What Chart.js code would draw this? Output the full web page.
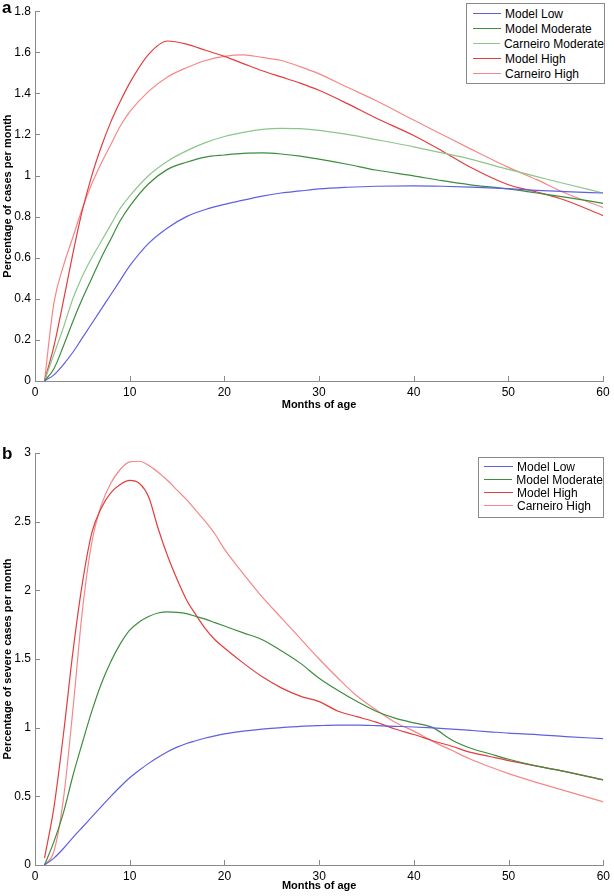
<!DOCTYPE html>
<html>
<head>
<meta charset="utf-8">
<script src="https://cdn.jsdelivr.net/npm/chart.js@4.4.1/dist/chart.umd.min.js"></script>
<style>
  body { margin: 0; background: #fff; font-family: "Liberation Sans", Arial, sans-serif; }
  .panel { position: absolute; left: 0; width: 614px; }
  .legend {
    position: absolute; background: #fff; border: 1px solid #8a8a8a;
    font-size: 12px; color: #000; padding: 2px 0;
  }
  .legend .row { display: flex; align-items: center; white-space: nowrap; }
  .legend .swatch { display: inline-block; height: 1px; margin-right: 4px; }
</style>
</head>
<body>
<div class="panel" style="top:0;height:412px"><canvas id="chartA"></canvas></div>
<div class="panel" style="top:440px;height:456px"><canvas id="chartB"></canvas></div>
<div class="legend" id="legendA" style="left:466px;top:3px;width:137px;height:75px"></div>
<div class="legend" id="legendB" style="left:478px;top:457px;width:124px;height:55px"></div>

<script>
// ---- panel a: all cases ----
const monthsA = [1, 2, 3, 4, 5, 6, 7, 8, 9, 10, 12, 14, 16, 18, 20, 22, 24, 26, 28, 30, 33, 36, 40, 43, 46, 50, 53, 56, 60];
const modelLowA = [0, 0.03, 0.08, 0.14, 0.21, 0.28, 0.35, 0.42, 0.49, 0.56, 0.67, 0.745, 0.80, 0.835, 0.86, 0.88, 0.90, 0.915, 0.925, 0.935, 0.943, 0.948, 0.95, 0.948, 0.944, 0.936, 0.928, 0.922, 0.915];
const modelModA = [0, 0.06, 0.17, 0.29, 0.40, 0.50, 0.60, 0.69, 0.78, 0.85, 0.96, 1.03, 1.065, 1.09, 1.10, 1.108, 1.11, 1.105, 1.095, 1.08, 1.055, 1.027, 0.998, 0.975, 0.955, 0.935, 0.915, 0.895, 0.865];
const carneiroModA = [0, 0.13, 0.26, 0.40, 0.51, 0.60, 0.68, 0.76, 0.84, 0.90, 1.00, 1.07, 1.12, 1.16, 1.19, 1.21, 1.225, 1.23, 1.228, 1.22, 1.20, 1.175, 1.14, 1.11, 1.08, 1.03, 0.995, 0.96, 0.915];
const modelHighA = [0, 0.17, 0.39, 0.62, 0.83, 1.00, 1.14, 1.26, 1.36, 1.45, 1.59, 1.655, 1.64, 1.61, 1.58, 1.545, 1.51, 1.48, 1.45, 1.415, 1.35, 1.28, 1.195, 1.12, 1.04, 0.955, 0.92, 0.88, 0.805];
const carneiroHighA = [0, 0.38, 0.56, 0.70, 0.84, 0.96, 1.06, 1.15, 1.24, 1.31, 1.41, 1.48, 1.525, 1.56, 1.58, 1.587, 1.575, 1.56, 1.53, 1.495, 1.43, 1.365, 1.27, 1.20, 1.13, 1.04, 0.98, 0.915, 0.845];

// ---- panel b: severe cases ----
const monthsB = [1, 2, 3, 4, 5, 6, 7, 8, 9, 10, 11, 12, 13, 14, 15, 16, 17, 18, 19, 20, 22, 24, 26, 28, 30, 32, 34, 36, 38, 40, 42, 44, 46, 48, 50, 53, 56, 60];
const modelLowB = [0, 0.05, 0.12, 0.2, 0.275, 0.35, 0.425, 0.5, 0.57, 0.635, 0.69, 0.74, 0.785, 0.825, 0.858, 0.885, 0.905, 0.925, 0.94, 0.955, 0.975, 0.99, 1.0, 1.01, 1.015, 1.018, 1.018, 1.015, 1.01, 1.005, 0.998, 0.99, 0.98, 0.97, 0.96, 0.95, 0.935, 0.92];
const modelModB = [0, 0.17, 0.38, 0.65, 0.89, 1.12, 1.32, 1.48, 1.61, 1.71, 1.77, 1.81, 1.835, 1.843, 1.84, 1.83, 1.81, 1.79, 1.765, 1.74, 1.69, 1.64, 1.56, 1.47, 1.36, 1.27, 1.19, 1.12, 1.07, 1.035, 1.0, 0.91, 0.85, 0.81, 0.77, 0.72, 0.68, 0.62];
const modelHighB = [0.05, 0.42, 0.95, 1.55, 2.05, 2.42, 2.60, 2.71, 2.77, 2.80, 2.78, 2.68, 2.45, 2.25, 2.08, 1.93, 1.82, 1.72, 1.64, 1.58, 1.47, 1.37, 1.29, 1.23, 1.19, 1.12, 1.08, 1.04, 0.99, 0.95, 0.905, 0.865, 0.82, 0.79, 0.76, 0.72, 0.68, 0.62];
const carneiroHighB = [0, 0.10, 0.48, 1.13, 1.85, 2.35, 2.62, 2.78, 2.88, 2.935, 2.94, 2.91, 2.86, 2.80, 2.73, 2.66, 2.58, 2.50, 2.41, 2.30, 2.12, 1.95, 1.80, 1.65, 1.50, 1.36, 1.23, 1.13, 1.04, 0.975, 0.90, 0.835, 0.77, 0.715, 0.665, 0.60, 0.54, 0.46];

// ---- ticks ----
const xTicks = [0, 10, 20, 30, 40, 50, 60];
const yTicksA = [0, 0.2, 0.4, 0.6, 0.8, 1, 1.2, 1.4, 1.6, 1.8];
const yTicksB = [0, 0.5, 1, 1.5, 2, 2.5, 3];

const FONT = '"Liberation Sans", Arial, sans-serif';
const AXIS_GRAY = '#8a8a8a';

const COLORS = {
    modelLow: 'rgb(95, 95, 228)',
    modelMod: 'rgb(62, 140, 62)',
    carneiroMod: 'rgb(140, 198, 140)',
    modelHigh: 'rgb(226, 62, 62)',
    carneiroHigh: 'rgb(246, 135, 135)'
};

function points(xs, ys) {
    return xs.map((x, i) => ({ x: x, y: ys[i] }));
}

function series(label, xs, ys, color) {
    return {
        label: label,
        data: points(xs, ys),
        borderColor: color,
        backgroundColor: color,
        borderWidth: 1.2,
        pointRadius: 0,
        cubicInterpolationMode: 'monotone',
        fill: false
    };
}

// Matlab style inward ticks plus the panel letter
const inwardTicks = {
    id: 'inwardTicks',
    afterDraw(chart, args, opts) {
        const ctx = chart.ctx;
        const x = chart.scales.x, y = chart.scales.y;
        const area = chart.chartArea;
        ctx.save();
        ctx.strokeStyle = AXIS_GRAY;
        ctx.lineWidth = 1;
        ctx.beginPath();
        x.ticks.forEach(t => {
            const px = Math.round(x.getPixelForValue(t.value)) + 0.5;
            ctx.moveTo(px, area.bottom);
            ctx.lineTo(px, area.bottom - 5);
        });
        y.ticks.forEach(t => {
            const py = Math.round(y.getPixelForValue(t.value)) + 0.5;
            ctx.moveTo(area.left, py);
            ctx.lineTo(area.left + 5, py);
        });
        ctx.stroke();
        ctx.fillStyle = '#000';
        ctx.font = 'bold 17px ' + FONT;
        ctx.textBaseline = 'top';
        ctx.fillText(opts.letter, 2, opts.letterY);
        ctx.restore();
    }
};

function makeChart(id, datasets, yTicks, yMax, yTitle, pad, xHeight, letter, letterY) {
    return new Chart(document.getElementById(id), {
        type: 'line',
        data: { datasets: datasets },
        plugins: [inwardTicks],
        options: {
            responsive: true,
            maintainAspectRatio: false,
            animation: false,
            layout: { padding: pad },
            plugins: {
                legend: { display: false },
                tooltip: { enabled: false },
                inwardTicks: { letter: letter, letterY: letterY }
            },
            scales: {
                x: {
                    type: 'linear',
                    min: 0,
                    max: 60,
                    afterBuildTicks: s => { s.ticks = xTicks.map(v => ({ value: v })); },
                    afterFit: s => { s.height = xHeight; },
                    grid: { drawOnChartArea: false, drawTicks: false },
                    border: { display: true, color: AXIS_GRAY, width: 1 },
                    ticks: {
                        color: '#000',
                        padding: 4,
                        font: { family: FONT, size: 12 },
                        callback: v => String(v)
                    },
                    title: {
                        display: true,
                        text: 'Months of age',
                        color: '#000',
                        padding: 0,
                        font: { family: FONT, size: 11, weight: 'bold' }
                    }
                },
                y: {
                    type: 'linear',
                    min: 0,
                    max: yMax,
                    afterBuildTicks: s => { s.ticks = yTicks.map(v => ({ value: v })); },
                    afterFit: s => { s.width = 35; },
                    grid: { drawOnChartArea: false, drawTicks: false },
                    border: { display: true, color: AXIS_GRAY, width: 1 },
                    ticks: {
                        color: '#000',
                        padding: 4,
                        font: { family: FONT, size: 12 },
                        callback: v => String(v)
                    },
                    title: {
                        display: true,
                        text: yTitle,
                        color: '#000',
                        padding: { top: 1, bottom: 0 },
                        font: { family: FONT, size: 11, weight: 'bold' }
                    }
                }
            }
        }
    });
}

const chartA = makeChart('chartA', [
    series('Model Low', monthsA, modelLowA, COLORS.modelLow),
    series('Model Moderate', monthsA, modelModA, COLORS.modelMod),
    series('Carneiro Moderate', monthsA, carneiroModA, COLORS.carneiroMod),
    series('Model High', monthsA, modelHighA, COLORS.modelHigh),
    series('Carneiro High', monthsA, carneiroHighA, COLORS.carneiroHigh)
], yTicksA, 1.8, 'Percentage of cases per month', { top: 5, right: 11, left: 0, bottom: 0 }, 31, 'a', 0);

const chartB = makeChart('chartB', [
    series('Model Low', monthsB, modelLowB, COLORS.modelLow),
    series('Model Moderate', monthsB, modelModB, COLORS.modelMod),
    series('Model High', monthsB, modelHighB, COLORS.modelHigh),
    series('Carneiro High', monthsB, carneiroHighB, COLORS.carneiroHigh)
], yTicksB, 3, 'Percentage of severe cases per month', { top: 13, right: 7, left: 0, bottom: 3 }, 28, 'b', 6);

// HTML legends built from the chart datasets
function buildLegend(chart, id, lineLeft, lineW, rowH) {
    const box = document.getElementById(id);
    chart.data.datasets.forEach(ds => {
        const row = document.createElement('div');
        row.className = 'row';
        row.style.height = rowH + 'px';
        const sw = document.createElement('span');
        sw.className = 'swatch';
        sw.style.width = lineW + 'px';
        sw.style.marginLeft = lineLeft + 'px';
        sw.style.background = ds.borderColor;
        const tx = document.createElement('span');
        tx.textContent = ds.label;
        row.appendChild(sw);
        row.appendChild(tx);
        box.appendChild(row);
    });
}
buildLegend(chartA, 'legendA', 6, 28, 15);
buildLegend(chartB, 'legendB', 5, 29, 13);
</script>
</body>
</html>
